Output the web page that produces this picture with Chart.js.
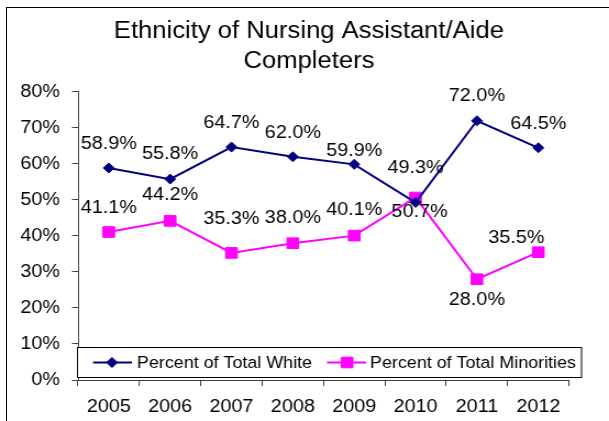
<!DOCTYPE html>
<html>
<head>
<meta charset="utf-8">
<script src="https://cdn.jsdelivr.net/npm/chart.js@4/dist/chart.umd.min.js"></script>
<style>
  html, body { margin: 0; padding: 0; background: #fff; overflow: hidden; }
  #frame { position: absolute; left: 6px; top: 7px; width: 800px; height: 600px;
           border-left: 1px solid #000; border-top: 1px solid #000; }
  #wrap { position: absolute; left: 0; top: 0; width: 554px; height: 421px;
          transform: scaleX(1.0993); transform-origin: 0 0; }
</style>
</head>
<body>
<div id="frame"></div>
<div id="wrap"><canvas id="c" width="554" height="421"></canvas></div>
<script>
// ---- data ----
const titleLines = ['Ethnicity of Nursing Assistant/Aide', 'Completers'];
const years = ['2005', '2006', '2007', '2008', '2009', '2010', '2011', '2012'];
const whiteLabel = 'Percent of Total White';
const minorityLabel = 'Percent of Total Minorities';
const whitePct = [58.9, 55.8, 64.7, 62.0, 59.9, 49.3, 72.0, 64.5];
const minorityPct = [41.1, 44.2, 35.3, 38.0, 40.1, 50.7, 28.0, 35.5];
const yTickValues = [0, 10, 20, 30, 40, 50, 60, 70, 80];

const FONT = '"Liberation Sans", Arial, sans-serif';
const NAVY = '#000080';
const MAGENTA = '#FF00FF';
const AXIS = '#404040';

// label placement (style, per point)
const labelPlacement = [
  { dx: [0, 0, 0, 0, 0, 0, 0, 0], dy: [-24, -25, -24, -24, -13, -34, -25, -24] },
  { dx: [0, 0, 0, 0, 0, 3.6, 0, -20], dy: [-24, -26, -34, -25, -26, 15, 21, -14] }
];

const dataLabelPlugin = {
  id: 'dataLabels',
  afterDatasetsDraw(chart) {
    const ctx = chart.ctx;
    ctx.save();
    ctx.font = '18px ' + FONT;
    ctx.fillStyle = '#000';
    ctx.textAlign = 'center';
    ctx.textBaseline = 'middle';
    chart.data.datasets.forEach((ds, i) => {
      const meta = chart.getDatasetMeta(i);
      const pl = labelPlacement[i];
      meta.data.forEach((pt, j) => {
        ctx.fillText(ds.data[j].toFixed(1) + '%', pt.x + pl.dx[j], pt.y + pl.dy[j]);
      });
    });
    ctx.restore();
  }
};

const legendBoxPlugin = {
  id: 'legendBox',
  afterDraw(chart) {
    const ctx = chart.ctx;
    const left = chart.chartArea.left - 1;
    const top = 347.5, h = 30, w = 458.5;
    const cy = 362.5;
    ctx.save();
    ctx.fillStyle = '#fff';
    ctx.fillRect(left + 0.5, top, w, h);
    ctx.strokeStyle = '#000';
    ctx.lineWidth = 1;
    ctx.strokeRect(left + 0.5, top, w, h);
    const items = [
      { x0: 84.6, x1: 120, mx: 101.9, tx: 124.6 },
      { x0: 297.5, x1: 333, mx: 315.7, tx: 336.6 }
    ];
    chart.data.datasets.forEach((ds, i) => {
      const it = items[i];
      ctx.strokeStyle = ds.borderColor;
      ctx.lineWidth = 2;
      ctx.beginPath();
      ctx.moveTo(it.x0, cy);
      ctx.lineTo(it.x1, cy);
      ctx.stroke();
      ctx.fillStyle = ds.pointBackgroundColor;
      ctx.beginPath();
      if (ds.pointStyle === 'rectRot') {
        const r = 5;
        ctx.moveTo(it.mx - r, cy); ctx.lineTo(it.mx, cy - r);
        ctx.lineTo(it.mx + r, cy); ctx.lineTo(it.mx, cy + r);
      } else {
        const s = 5.3;
        ctx.rect(it.mx - s, cy - s, 2 * s, 2 * s);
      }
      ctx.closePath();
      ctx.fill();
      ctx.lineWidth = 1;
      ctx.stroke();
      ctx.fillStyle = '#000';
      ctx.font = '16.3px ' + FONT;
      ctx.textAlign = 'left';
      ctx.textBaseline = 'middle';
      ctx.fillText(ds.label, it.tx, cy + 1);
    });
    ctx.restore();
  }
};

new Chart(document.getElementById('c'), {
  type: 'line',
  data: {
    labels: years,
    datasets: [
      {
        label: whiteLabel,
        data: whitePct,
        borderColor: NAVY,
        backgroundColor: NAVY,
        pointBackgroundColor: NAVY,
        pointBorderColor: NAVY,
        pointStyle: 'rectRot',
        pointRadius: 5,
        pointHoverRadius: 5,
        pointBorderWidth: 1,
        borderWidth: 2,
        tension: 0,
        yAxisID: 'y'
      },
      {
        label: minorityLabel,
        data: minorityPct,
        borderColor: MAGENTA,
        backgroundColor: MAGENTA,
        pointBackgroundColor: MAGENTA,
        pointBorderColor: MAGENTA,
        pointStyle: 'rect',
        pointRadius: 7.5,
        pointHoverRadius: 7.5,
        pointBorderWidth: 1,
        borderWidth: 2,
        tension: 0,
        yAxisID: 'y'
      }
    ]
  },
  options: {
    responsive: false,
    animation: false,
    devicePixelRatio: 1,
    events: [],
    layout: { padding: { left: 8, right: 0, top: 0, bottom: 3.4 } },
    plugins: {
      legend: { display: false },
      tooltip: { enabled: false },
      title: {
        display: true,
        text: titleLines,
        color: '#000',
        font: { family: FONT, size: 23.3, weight: 'normal', lineHeight: 1.27 },
        padding: { top: 17, bottom: 15.8 }
      }
    },
    scales: {
      x: {
        type: 'category',
        offset: true,
        afterFit(scale) { scale.height = 37.6; },
        grid: { display: true, drawOnChartArea: false, drawTicks: true, tickLength: 6, offset: true, color: AXIS },
        border: { display: true, color: AXIS, width: 1 },
        ticks: { color: '#000', font: { family: FONT, size: 18 }, padding: 10, maxRotation: 0, autoSkip: false }
      },
      y: {
        type: 'linear',
        position: 'left',
        min: 0,
        max: 80,
        afterBuildTicks(scale) { scale.ticks = yTickValues.map(v => ({ value: v })); },
        afterFit(scale) { scale.width = 63; },
        grid: { display: true, drawOnChartArea: false, drawTicks: true, tickLength: 5.5, color: AXIS },
        border: { display: true, color: AXIS, width: 1 },
        ticks: { color: '#000', font: { family: FONT, size: 18 }, padding: 11, callback: v => v + '%' }
      },
      yR: {
        type: 'linear',
        position: 'right',
        display: true,
        afterFit(scale) { scale.width = 36.4; },
        grid: { display: false },
        border: { display: false },
        ticks: { display: false }
      }
    }
  },
  plugins: [dataLabelPlugin, legendBoxPlugin]
});
</script>
</body>
</html>
